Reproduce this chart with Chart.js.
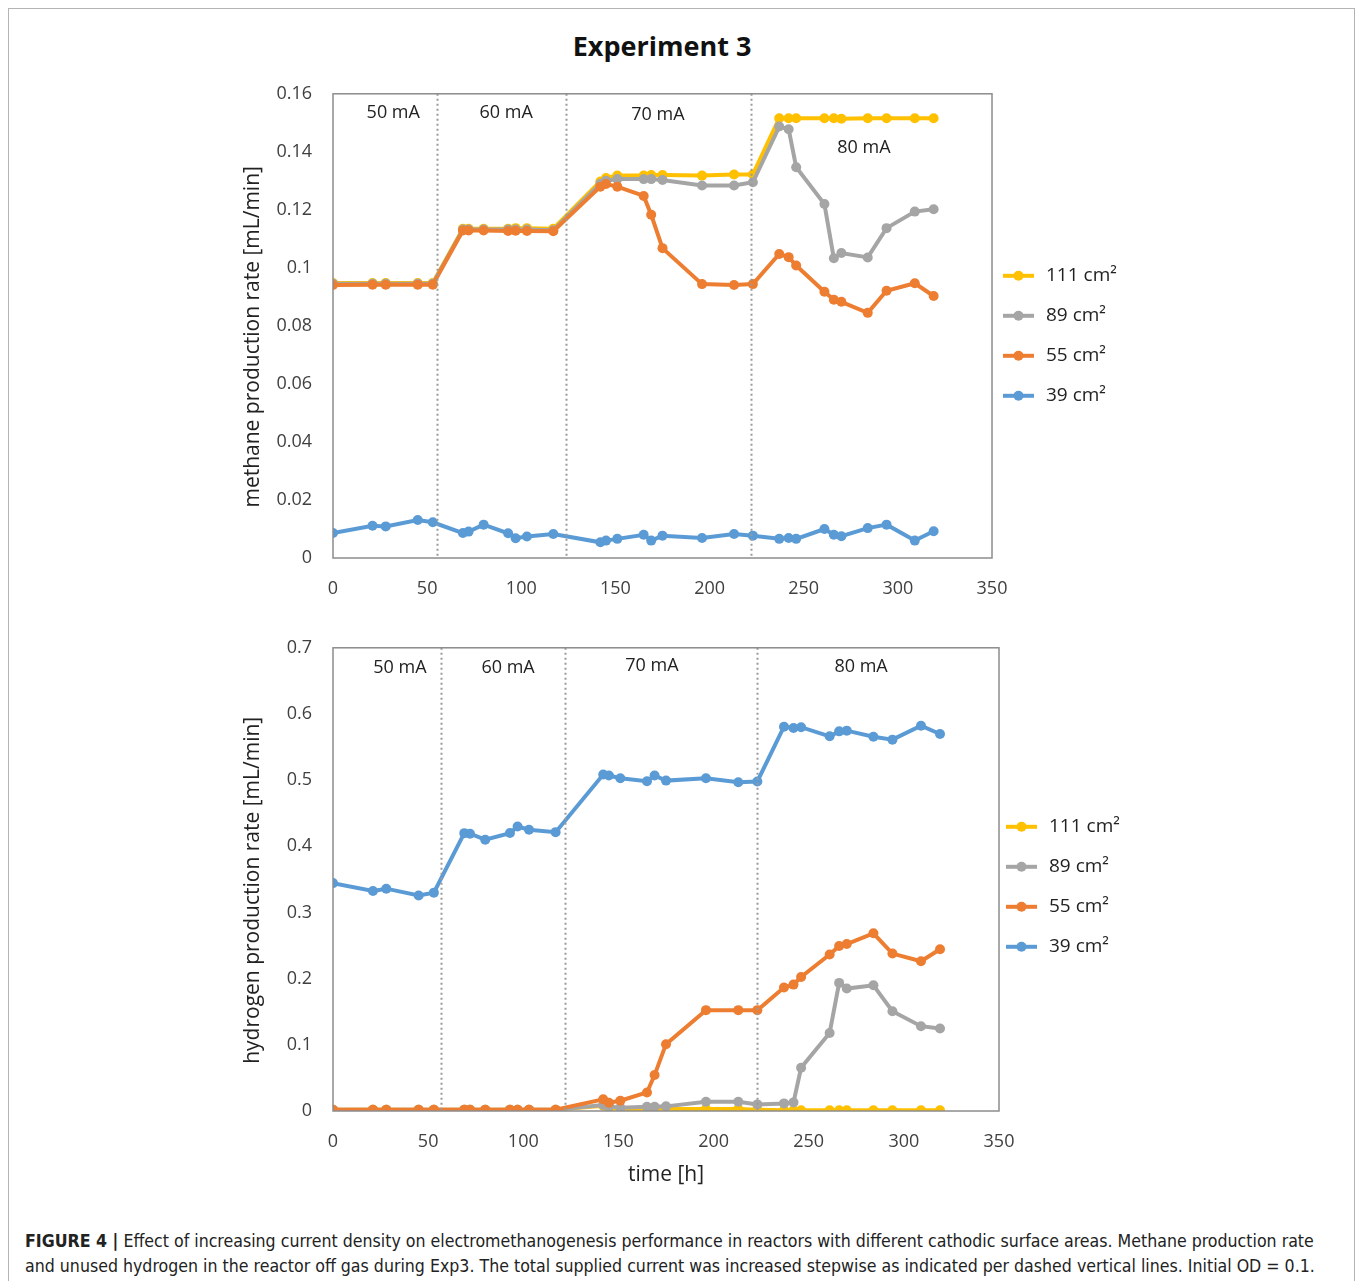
<!DOCTYPE html>
<html>
<head>
<meta charset="utf-8">
<script src="https://cdn.jsdelivr.net/npm/chart.js@4.4.1/dist/chart.umd.min.js"></script>
<style>
  body { margin: 0; background: #fff; width: 1358px; height: 1281px; overflow: hidden; position: relative; }
  .frame { position: absolute; left: 8px; top: 8px; width: 1347px; height: 1300px; border: 1px solid #b4b4b4; box-sizing: border-box; }
  .title { position: absolute; left: 0; width: 1324px; top: 27px; text-align: center; font: bold 27px 'Open Sans', sans-serif; color: #111; }
  .box { position: absolute; }
  .caption { position: absolute; left: 25px; top: 1229px; font: 17.6px 'Liberation Sans Narrow', 'DejaVu Sans Condensed', sans-serif; color: #222; line-height: 25px; white-space: nowrap; }
</style>
</head>
<body>
<div class="frame"></div>
<div class="title">Experiment 3</div>
<div class="box" style="left:236px; top:62px; width:900px; height:558px;"><canvas id="methaneChart" width="900" height="558"></canvas></div>
<div class="box" style="left:236px; top:616px; width:900px; height:584px;"><canvas id="hydrogenChart" width="900" height="584"></canvas></div>
<div class="caption"><b>FIGURE 4 |</b> Effect of increasing current density on electromethanogenesis performance in reactors with different cathodic surface areas. Methane production rate<br>and unused hydrogen in the reactor off gas during Exp3. The total supplied current was increased stepwise as indicated per dashed vertical lines. Initial OD = 0.1.</div>

<script>
// sampling times [h]
const hours = [0, 21, 28, 45, 53, 69, 72, 80, 93, 97, 103, 117, 142, 145, 151, 165, 169, 175, 196, 213, 223, 237, 242, 246, 261, 266, 270, 284, 294, 309, 319];

const seriesNames = ['111 cm²', '89 cm²', '55 cm²', '39 cm²'];
const seriesColors = ['#FFC000', '#A5A5A5', '#ED7D31', '#5B9BD5'];

// methane production rate [mL/min]
const ch4_111 = [0.0948, 0.0948, 0.0948, 0.0948, 0.0948, 0.1135, 0.1135, 0.1135, 0.1135, 0.1137, 0.1137, 0.1135, 0.1298, 0.131, 0.1318, 0.1318, 0.132, 0.132, 0.1318, 0.1322, 0.1322, 0.1516, 0.1516, 0.1516, 0.1516, 0.1516, 0.1514, 0.1516, 0.1516, 0.1516, 0.1516];
const ch4_89 = [0.0945, 0.0945, 0.0945, 0.0945, 0.0945, 0.1132, 0.1132, 0.1132, 0.1132, 0.1132, 0.1132, 0.113, 0.129, 0.130, 0.1306, 0.1306, 0.1306, 0.1303, 0.1284, 0.1284, 0.1295, 0.1487, 0.1478, 0.1347, 0.122, 0.1033, 0.1051, 0.1036, 0.1137, 0.1194, 0.1202];
const ch4_55 = [0.0941, 0.0942, 0.0942, 0.0942, 0.0942, 0.1129, 0.1129, 0.1129, 0.1127, 0.1128, 0.1127, 0.1126, 0.128, 0.1289, 0.128, 0.1248, 0.1183, 0.1068, 0.0944, 0.0941, 0.0944, 0.1048, 0.1037, 0.1008, 0.0918, 0.089, 0.0883, 0.0845, 0.0921, 0.0947, 0.0903];
const ch4_39 = [0.0086, 0.0111, 0.0109, 0.0131, 0.0123, 0.0086, 0.0091, 0.0115, 0.0085, 0.0068, 0.0074, 0.0083, 0.0054, 0.006, 0.0066, 0.008, 0.006, 0.0077, 0.0069, 0.0083, 0.0077, 0.0066, 0.0069, 0.0066, 0.01, 0.008, 0.0075, 0.0103, 0.0115, 0.006, 0.0092];

// hydrogen production rate [mL/min]
const h2_111 = [0.002, 0.002, 0.002, 0.002, 0.002, 0.002, 0.002, 0.002, 0.002, 0.002, 0.002, 0.002, 0.008, 0.004, 0.003, 0.003, 0.003, 0.003, 0.003, 0.003, 0.002, 0.001, 0.001, 0.001, 0.001, 0.001, 0.001, 0.001, 0.001, 0.001, 0.001];
const h2_89 = [0.002, 0.002, 0.002, 0.002, 0.002, 0.002, 0.002, 0.002, 0.002, 0.002, 0.002, 0.002, 0.009, 0.007, 0.005, 0.0065, 0.0065, 0.007, 0.014, 0.014, 0.010, 0.0115, 0.013, 0.0654, 0.118, 0.1936, 0.185, 0.19, 0.1508, 0.1282, 0.1247];
const h2_55 = [0.002, 0.002, 0.002, 0.002, 0.002, 0.002, 0.002, 0.002, 0.002, 0.002, 0.002, 0.002, 0.0176, 0.0126, 0.0156, 0.028, 0.0543, 0.101, 0.1524, 0.1524, 0.1524, 0.1866, 0.191, 0.2026, 0.2364, 0.2494, 0.2524, 0.2685, 0.2379, 0.2263, 0.2444];
const h2_39 = [0.3444, 0.3324, 0.336, 0.3258, 0.330, 0.4199, 0.419, 0.41, 0.42, 0.43, 0.425, 0.4214, 0.5084, 0.507, 0.5028, 0.4983, 0.507, 0.4993, 0.5028, 0.4968, 0.498, 0.5808, 0.5788, 0.58, 0.5662, 0.5737, 0.5748, 0.5657, 0.5612, 0.5823, 0.5697];

// current steps
const currentLabels = ['50 mA', '60 mA', '70 mA', '80 mA'];
const ch4Steps = [55, 124, 222];
const h2Steps = [57, 122, 223];

Chart.defaults.font.family = "'Open Sans', sans-serif";
Chart.defaults.color = '#404040';

// draws frame, dashed step lines, current labels and the legend
const decorPlugin = {
    id: 'decor',
    afterDatasetsDraw(chart, args, opts) {
        const ctx = chart.ctx;
        const a = chart.chartArea;
        const xs = chart.scales.x, ys = chart.scales.y;
        ctx.save();
        // dotted step lines
        ctx.strokeStyle = '#9a9a9a';
        ctx.lineWidth = 2;
        ctx.setLineDash([2, 3]);
        opts.steps.forEach(function (h) {
            const px = Math.round(xs.getPixelForValue(h)) + 0.5;
            ctx.beginPath();
            ctx.moveTo(px, a.top);
            ctx.lineTo(px, a.bottom);
            ctx.stroke();
        });
        ctx.setLineDash([]);
        // plot frame
        ctx.strokeStyle = '#8c8c8c';
        ctx.lineWidth = 1.5;
        ctx.strokeRect(a.left, a.top, a.right - a.left, a.bottom - a.top);
        // current labels
        ctx.fillStyle = '#222';
        ctx.font = "18px 'Open Sans', sans-serif";
        ctx.textAlign = 'center';
        ctx.textBaseline = 'middle';
        opts.labels.forEach(function (l, i) {
            ctx.fillText(currentLabels[i], xs.getPixelForValue(l[0]), ys.getPixelForValue(l[1]));
        });
        // legend
        ctx.textAlign = 'left';
        ctx.font = "19px 'Open Sans', sans-serif";
        chart.data.datasets.forEach(function (ds, i) {
            const y = a.top + opts.legendTop + i * 40;
            const x0 = a.right + opts.legendX;
            ctx.strokeStyle = ds.borderColor;
            ctx.lineWidth = 4;
            ctx.beginPath();
            ctx.moveTo(x0, y);
            ctx.lineTo(x0 + 31, y);
            ctx.stroke();
            ctx.fillStyle = ds.borderColor;
            ctx.beginPath();
            ctx.arc(x0 + 15.5, y, 5, 0, Math.PI * 2);
            ctx.fill();
            ctx.fillStyle = '#222';
            ctx.fillText(ds.label, x0 + 43, y);
        });
        ctx.restore();
    }
};

function makeDatasets(values) {
    return values.map(function (v, i) {
        return {
            label: seriesNames[i],
            data: hours.map(function (h, j) { return { x: h, y: v[j] }; }),
            borderColor: seriesColors[i],
            backgroundColor: seriesColors[i],
            borderWidth: 4,
            pointRadius: 5,
            pointBorderWidth: 0,
            pointBackgroundColor: seriesColors[i],
            order: 3 - i
        };
    });
}

function makeChart(id, values, cfg) {
    const ctx = document.getElementById(id).getContext('2d');
    return new Chart(ctx, {
        type: 'line',
        data: { datasets: makeDatasets(values) },
        options: {
            responsive: false,
            animation: false,
            layout: { padding: { left: 0, right: cfg.padRight, top: cfg.padTop, bottom: cfg.padBottom } },
            scales: {
                x: {
                    type: 'linear',
                    min: 0, max: 350,
                    afterFit: function (s) { s.height = cfg.xHeight; },
                    grid: { display: false, drawTicks: false },
                    border: { display: false },
                    ticks: { stepSize: 50, padding: 20, font: { size: 18 }, color: '#404040' },
                    title: cfg.xTitle ? { display: true, text: cfg.xTitle, color: '#222', font: { size: 21 }, padding: { top: 6 } } : { display: false }
                },
                y: {
                    min: 0, max: cfg.yMax,
                    afterFit: function (s) { s.width = 97; },
                    grid: { display: false, drawTicks: false },
                    border: { display: false },
                    ticks: {
                        stepSize: cfg.yStep, padding: 21, font: { size: 18 }, color: '#404040',
                        callback: function (v) { return String(Number(v.toFixed(2))); }
                    },
                    title: { display: true, text: cfg.yTitle, color: '#222', font: { size: 21 }, padding: { top: 4, bottom: 0 } }
                }
            },
            plugins: {
                legend: { display: false },
                tooltip: { enabled: false },
                decor: { steps: cfg.steps, labels: cfg.labels, legendTop: cfg.legendTop, legendX: cfg.legendX }
            }
        },
        plugins: [decorPlugin]
    });
}

makeChart('methaneChart', [ch4_111, ch4_89, ch4_55, ch4_39], {
    padRight: 144, padTop: 14, padBottom: 0, xHeight: 62, yMax: 0.16, yStep: 0.02,
    yTitle: 'methane production rate [mL/min]    ',
    steps: ch4Steps,
    labels: [[32, 0.1534], [92, 0.1534], [172.6, 0.1528], [282, 0.1414]],
    legendTop: 182, legendX: 11
});

makeChart('hydrogenChart', [h2_111, h2_89, h2_55, h2_39], {
    padRight: 137, padTop: 12, padBottom: 8, xHeight: 81, yMax: 0.7, yStep: 0.1,
    yTitle: 'hydrogen production rate [mL/min]    ', xTitle: 'time [h]',
    steps: h2Steps,
    labels: [[35.2, 0.67], [92, 0.67], [167.6, 0.673], [277.5, 0.671]],
    legendTop: 179, legendX: 7
});
</script>
</body>
</html>
